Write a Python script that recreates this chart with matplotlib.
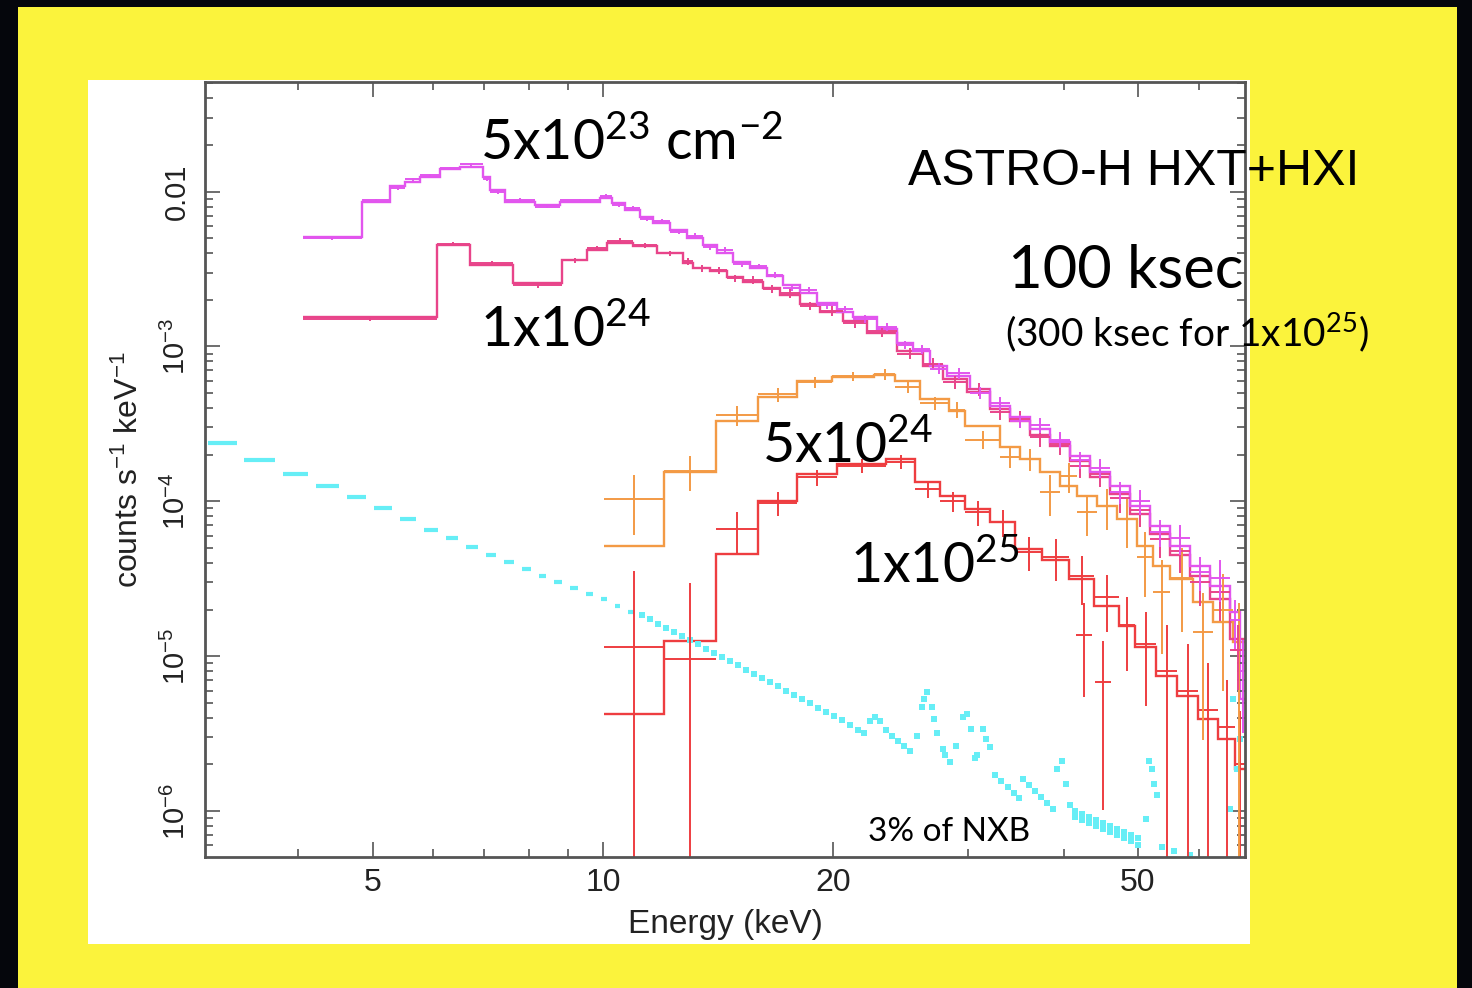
import numpy as np
import matplotlib
matplotlib.use("Agg")
from matplotlib import pyplot as plt
from matplotlib.patches import Rectangle
from matplotlib.ticker import FixedLocator, FixedFormatter, NullFormatter

plt.rcParams["font.family"] = ["Liberation Sans", "DejaVu Sans"]
plt.rcParams["mathtext.default"] = "regular"

""" DATA (read off the picture) """
# 5x10^23 cm^-2 (magenta)
mag_edges = [4.05, 4.84, 5.27, 5.51, 5.77, 6.12, 6.50, 6.97, 7.12, 7.45,
             8.15, 8.78, 9.91, 10.27, 10.69, 11.18, 11.62, 12.24, 12.88, 13.51,
             14.09, 14.79, 15.57, 16.38, 17.19, 18.09, 19.04, 20.22, 21.22, 22.81,
             24.23, 25.42, 26.76, 28.17, 30.18, 32.06, 34.04, 36.16, 38.39, 40.78,
             43.31, 45.99, 48.85, 51.88, 55.10, 58.51, 62.15, 66.0, 68.0, 69.05]
mag_model = [5.12e-3, 8.62e-3, 1.08e-2, 1.16e-2, 1.25e-2, 1.39e-2, 1.45e-2, 1.25e-2, 1.03e-2, 8.62e-3,
             8.24e-3, 8.62e-3, 9.15e-3, 8.49e-3, 7.65e-3, 6.90e-3, 6.31e-3, 5.69e-3, 5.05e-3, 4.55e-3,
             4.04e-3, 3.53e-3, 3.23e-3, 2.83e-3, 2.51e-3, 2.23e-3, 1.92e-3, 1.68e-3, 1.54e-3, 1.29e-3,
             1.06e-3, 9.29e-4, 7.43e-4, 6.40e-4, 5.28e-4, 4.10e-4, 3.48e-4, 2.92e-4, 2.40e-4, 1.95e-4,
             1.54e-4, 1.25e-4, 9.29e-5, 6.90e-5, 5.13e-5, 3.81e-5, 2.83e-5, 1.92e-5, 5.3e-6]
mag_data = [5.0e-3, 8.8e-3, 1.05e-2, 1.2e-2, 1.28e-2, 1.42e-2, 1.5e-2, 1.2e-2, 1.0e-2, 8.8e-3,
            8.0e-3, 8.8e-3, 9.4e-3, 8.2e-3, 7.8e-3, 6.7e-3, 6.5e-3, 5.5e-3, 5.2e-3, 4.4e-3,
            4.2e-3, 3.4e-3, 3.3e-3, 2.9e-3, 2.4e-3, 2.3e-3, 1.85e-3, 1.75e-3, 1.5e-3, 1.33e-3,
            1.02e-3, 9.6e-4, 7.2e-4, 6.7e-4, 5.0e-4, 4.3e-4, 3.3e-4, 3.1e-4, 2.5e-4, 1.85e-4,
            1.65e-4, 1.15e-4, 1.0e-4, 6.3e-5, 5.8e-5, 3.5e-5, 3.2e-5, 1.7e-5, 8e-6]
mag_err = [0.02, 0.02, 0.02, 0.02, 0.02, 0.02, 0.02, 0.03, 0.03, 0.03,
           0.02, 0.02, 0.03, 0.03, 0.03, 0.03, 0.03, 0.03, 0.04, 0.04,
           0.04, 0.04, 0.04, 0.05, 0.05, 0.05, 0.05, 0.05, 0.06, 0.06,
           0.06, 0.07, 0.08, 0.08, 0.09, 0.1, 0.1, 0.11, 0.12, 0.13,
           0.14, 0.16, 0.18, 0.2, 0.22, 0.25, 0.3, 0.35, 0.6]

# 1x10^24 (pink)
pink_edges = [4.05, 6.07, 6.70, 7.63, 8.84, 9.53, 10.12, 10.94, 11.76, 12.72,
              13.11, 13.80, 14.53, 15.24, 16.19, 17.03, 18.09, 19.21, 20.59, 22.13,
              24.23, 26.20, 27.83, 29.91, 32.06, 34.04, 36.16, 38.39, 40.78, 43.31,
              45.99, 48.85, 51.88, 55.10, 58.51, 62.15, 66.0, 69.05]
pink_model = [1.54e-3, 4.55e-3, 3.38e-3, 2.55e-3, 3.64e-3, 4.22e-3, 4.69e-3, 4.42e-3, 4.04e-3, 3.48e-3,
              3.23e-3, 3.05e-3, 2.79e-3, 2.62e-3, 2.40e-3, 2.16e-3, 1.87e-3, 1.66e-3, 1.45e-3, 1.23e-3,
              9.29e-4, 7.43e-4, 6.12e-4, 5.05e-4, 3.93e-4, 3.28e-4, 2.70e-4, 2.26e-4, 1.81e-4, 1.43e-4,
              1.11e-4, 8.24e-5, 6.12e-5, 4.48e-5, 3.28e-5, 2.35e-5, 1.3e-5]
pink_data = [1.5e-3, 4.6e-3, 3.45e-3, 2.5e-3, 3.6e-3, 4.3e-3, 4.8e-3, 4.5e-3, 4.0e-3, 3.55e-3,
             3.2e-3, 3.1e-3, 2.75e-3, 2.7e-3, 2.35e-3, 2.2e-3, 1.83e-3, 1.7e-3, 1.42e-3, 1.25e-3,
             9.0e-4, 7.7e-4, 5.9e-4, 5.3e-4, 3.8e-4, 3.4e-4, 2.6e-4, 2.35e-4, 1.7e-4, 1.5e-4,
             1.05e-4, 8.8e-5, 5.7e-5, 4.8e-5, 3.0e-5, 2.6e-5, 1.1e-5]
pink_err = [0.03, 0.03, 0.04, 0.04, 0.04, 0.04, 0.04, 0.04, 0.04, 0.05,
            0.05, 0.05, 0.05, 0.06, 0.06, 0.06, 0.06, 0.07, 0.07, 0.08,
            0.08, 0.09, 0.1, 0.1, 0.12, 0.12, 0.14, 0.15, 0.17, 0.18,
            0.2, 0.22, 0.25, 0.28, 0.3, 0.35, 0.45]

# 5x10^24 (orange)
org_edges = [10.03, 12.02, 14.05, 15.95, 17.93, 19.93, 22.61, 24.08, 25.97, 28.35,
             29.73, 33.04, 35.09, 37.26, 39.57, 41.65, 44.23, 46.99, 49.89, 52.36,
             55.10, 59.04, 62.71, 66.60, 69.05]
org_model = [5.13e-5, 1.54e-4, 3.28e-4, 4.75e-4, 5.94e-4, 6.31e-4, 6.50e-4, 5.94e-4, 4.55e-4, 3.81e-4,
             3.05e-4, 2.23e-4, 1.87e-4, 1.54e-4, 1.25e-4, 1.08e-4, 9.29e-5, 7.66e-5, 5.13e-5, 3.81e-5,
             3.14e-5, 2.23e-5, 1.66e-5, 1.23e-5]
org_data = [1.04e-4, 1.56e-4, 3.6e-4, 4.9e-4, 5.9e-4, 6.4e-4, 6.6e-4, 5.5e-4, 4.3e-4, 3.9e-4,
            2.5e-4, 1.92e-4, 1.87e-4, 1.14e-4, 1.45e-4, 8.5e-5, 9.3e-5, 7.7e-5, 4.4e-5, 2.6e-5,
            3.2e-5, 1.43e-5, 2.0e-5, 1.1e-5]
org_err = [0.42, 0.25, 0.15, 0.1, 0.08, 0.07, 0.08, 0.09, 0.1, 0.12,
           0.13, 0.15, 0.16, 0.3, 0.22, 0.3, 0.3, 0.35, 0.45, 0.6,
           0.55, 0.8, 0.7, 1.0]

# 1x10^25 (red)
red_edges = [10.03, 12.02, 14.05, 15.95, 17.93, 20.22, 23.44, 25.57, 27.57, 29.73,
             32.06, 34.56, 37.49, 40.66, 43.83, 47.27, 49.60, 52.83, 56.29, 59.97,
             63.68, 67.0, 69.05]
red_model = [4.23e-6, 1.25e-5, 4.55e-5, 1.0e-4, 1.49e-4, 1.73e-4, 1.87e-4, 1.33e-4, 1.08e-4, 8.87e-5,
             7.32e-5, 4.9e-5, 4.2e-5, 3.16e-5, 2.1e-5, 1.56e-5, 1.14e-5, 7.43e-6, 5.52e-6, 3.95e-6,
             2.94e-6, 1.87e-6]
red_data = [1.14e-5, 9.6e-6, 6.6e-5, 9.8e-5, 1.43e-4, 1.7e-4, 1.8e-4, 1.2e-4, 1.0e-4, 8.5e-5,
            7.3e-5, 4.7e-5, 4.4e-5, 3.3e-5, 2.4e-5, 1.6e-5, 1.2e-5, 8e-6, 6e-6, 4.5e-6,
            3.5e-6, 2.0e-6]
red_err = [2.1, 2.1, 0.3, 0.18, 0.12, 0.1, 0.1, 0.12, 0.15, 0.18,
           0.2, 0.25, 0.3, 0.35, 0.4, 0.5, 0.6, 1.0, 1.0, 1.0,
           1.0, 1.2]
# two extra low red points near 43-45 keV
red_x2 = [42.5, 45.0]
red_y2 = [1.37e-5, 6.8e-6]
red_x2err = [1.0, 1.1]
red_y2err = [0.6, 0.85]

# 3% of NXB (cyan): wide bins at low energy, dense points above 11 keV
nxb_edges = [3.01, 3.36, 3.77, 4.17, 4.57, 4.96, 5.36, 5.77, 6.16, 6.54,
             6.95, 7.33, 7.74, 8.15, 8.52, 8.95, 9.39, 9.82, 10.24, 10.65, 11.10]
nxb_wide = [2.37e-4, 1.84e-4, 1.49e-4, 1.25e-4, 1.06e-4, 9.0e-5, 7.66e-5, 6.5e-5, 5.77e-5, 5.05e-5,
            4.48e-5, 4.04e-5, 3.64e-5, 3.28e-5, 3.0e-5, 2.75e-5, 2.51e-5, 2.33e-5, 2.1e-5, 1.92e-5]
nxb_e = [11.25, 11.53, 11.80, 12.09, 12.38, 12.69, 13.00, 13.31, 13.63, 13.97,
         14.30, 14.66, 15.01, 15.38, 15.75, 16.14, 16.53, 16.93, 17.35, 17.77,
         18.20, 18.65, 19.10, 19.56, 20.05, 20.53, 21.03, 21.54, 21.93, 22.34,
         22.68, 23.02, 23.44, 23.87, 24.31, 24.75, 25.21, 25.7, 26.1, 26.3,
         26.5, 26.9, 27.1, 27.3, 27.8, 28.0, 28.4, 28.9, 29.5, 29.9,
         30.3, 30.6, 30.8, 31.4, 31.7, 32.0, 32.54, 33.15, 33.8, 34.4,
         35.0, 35.4, 36.0, 36.7, 37.4, 38.0, 38.7, 39.2, 39.8, 40.3,
         40.8, 41.4, 41.4, 42.3, 42.3, 43.2, 43.2, 44.1, 44.1, 45.0,
         45.0, 46.0, 46.0, 47.0, 47.0, 48.0, 48.0, 49.0, 49.0, 50.0,
         50.0, 51.3, 51.7, 52.1, 52.4, 52.9, 53.8, 55.8, 58.4, 66.0,
         66.5, 67.3, 67.9]
nxb_c = [1.84e-5, 1.73e-5, 1.62e-5, 1.53e-5, 1.43e-5, 1.35e-5, 1.27e-5, 1.19e-5, 1.12e-5, 1.05e-5,
         9.88e-6, 9.29e-6, 8.75e-6, 8.18e-6, 7.69e-6, 7.21e-6, 6.79e-6, 6.40e-6, 5.98e-6, 5.62e-6,
         5.28e-6, 4.97e-6, 4.65e-6, 4.37e-6, 4.10e-6, 3.86e-6, 3.59e-6, 3.33e-6, 3.19e-6, 3.81e-6,
         4.04e-6, 3.81e-6, 3.33e-6, 3.05e-6, 2.83e-6, 2.62e-6, 2.44e-6, 3.05e-6, 4.69e-6, 5.3e-6,
         5.86e-6, 4.69e-6, 3.95e-6, 3.2e-6, 2.51e-6, 2.3e-6, 2.07e-6, 2.62e-6, 4.04e-6, 4.23e-6,
         3.38e-6, 2.2e-6, 2.3e-6, 3.38e-6, 2.94e-6, 2.59e-6, 1.70e-6, 1.56e-6, 1.43e-6, 1.31e-6,
         1.21e-6, 1.61e-6, 1.47e-6, 1.35e-6, 1.24e-6, 1.13e-6, 1.03e-6, 1.87e-6, 2.1e-6, 1.5e-6,
         1.1e-6, 1.0e-6, 9.15e-7, 9.57e-7, 8.75e-7, 9.15e-7, 8.37e-7, 8.75e-7, 8.0e-7, 8.37e-7,
         7.65e-7, 8.0e-7, 7.32e-7, 7.65e-7, 7.0e-7, 7.32e-7, 6.7e-7, 7.0e-7, 6.4e-7, 6.7e-7,
         6.03e-7, 8.9e-7, 2.1e-6, 1.87e-6, 1.5e-6, 1.27e-6, 5.86e-7, 5.5e-7, 5.2e-7, 1.03e-6,
         5.28e-6, 1.87e-6, 2.94e-6]

x_ticks = [5, 10, 20, 50]
x_ticklabels = ["5", "10", "20", "50"]
y_ticks = [1e-6, 1e-5, 1e-4, 1e-3, 1e-2]
y_ticklabels = ["10$^{-6}$", "10$^{-5}$", "10$^{-4}$", "10$^{-3}$", "0.01"]

C_MAG = "#e255ee"
C_PINK = "#e8448a"
C_ORG = "#f39a45"
C_RED = "#ee3d40"
C_CYAN = "#66eef6"


def crosses(ax, edges, vals, frac, color, lw=1.4):
    edges = np.asarray(edges)
    vals = np.asarray(vals)
    frac = np.asarray(frac)
    xc = np.sqrt(edges[:-1] * edges[1:])
    xerr = [xc - edges[:-1], edges[1:] - xc]
    yerr = [np.minimum(frac, 0.99) * vals, frac * vals]
    ax.errorbar(xc, vals, xerr=xerr, yerr=yerr, fmt="none",
                ecolor=color, elinewidth=lw, capsize=0)


fig = plt.figure(figsize=(14.72, 9.88), dpi=100)
fig.patch.set_facecolor("#05060c")
fig.patches.append(Rectangle((0.0122, 0.0), 0.9776, 0.9929, transform=fig.transFigure,
                             facecolor="#fbf33c", edgecolor="none", zorder=-2))
fig.patches.append(Rectangle((0.0598, 0.0445), 0.7894, 0.8745, transform=fig.transFigure,
                             facecolor="white", edgecolor="none", zorder=-1))

ax = fig.add_axes([0.1393, 0.1326, 0.7065, 0.7844])
ax.set_facecolor("white")
ax.set_xscale("log")
ax.set_yscale("log")

# NXB
ne = np.asarray(nxb_edges)
ax.hlines(nxb_wide, ne[:-1] * 1.012, ne[1:] / 1.012, color=C_CYAN, lw=3.0)
ax.plot(nxb_e, nxb_c, "s", color=C_CYAN, ms=4.2, mew=0)

# spectra: model histograms + data crosses
for edges, model, data, err, col in [
        (red_edges, red_model, red_data, red_err, C_RED),
        (org_edges, org_model, org_data, org_err, C_ORG),
        (pink_edges, pink_model, pink_data, pink_err, C_PINK),
        (mag_edges, mag_model, mag_data, mag_err, C_MAG)]:
    ax.stairs(model, edges, baseline=None, color=col, lw=1.7)
    crosses(ax, edges, data, err, col)

ry = np.asarray(red_y2)
ax.errorbar(red_x2, red_y2, xerr=red_x2err,
            yerr=[ry * np.asarray(red_y2err), ry * np.asarray(red_y2err)],
            fmt="none", ecolor=C_RED, elinewidth=1.4, capsize=0)

ax.set_xlim(3.02, 69.0)
ax.set_ylim(5.05e-7, 0.051)

ax.xaxis.set_major_locator(FixedLocator(x_ticks))
ax.xaxis.set_major_formatter(FixedFormatter(x_ticklabels))
ax.xaxis.set_minor_locator(FixedLocator([3, 4, 6, 7, 8, 9, 30, 40, 60]))
ax.xaxis.set_minor_formatter(NullFormatter())
ax.yaxis.set_major_locator(FixedLocator(y_ticks))
ax.yaxis.set_major_formatter(FixedFormatter(y_ticklabels))
ax.yaxis.set_minor_locator(FixedLocator(
    [m * 10.0 ** k for k in range(-7, -1) for m in range(2, 10)]))
ax.yaxis.set_minor_formatter(NullFormatter())

ax.tick_params(which="both", direction="in", top=True, right=True,
               color="#555555", width=1.2, labelcolor="#222222")
ax.tick_params(which="major", length=11)
ax.tick_params(which="minor", length=6)
ax.tick_params(axis="x", labelsize=23, pad=8)
ax.tick_params(axis="y", labelsize=21, pad=10, labelrotation=90)
for lab in ax.get_yticklabels():
    lab.set_va("center")
for s in ax.spines.values():
    s.set_color("#555555")
    s.set_linewidth(2)

ax.set_xlabel("Energy (keV)", fontsize=24, color="#222222", labelpad=8)
ax.set_ylabel("counts s$^{-1}$ keV$^{-1}$", fontsize=23, color="#222222", labelpad=12)

# annotations
ann = ["Lato", "DejaVu Sans"]
fig.text(0.326, 0.838, "5x10$^{23}$ cm$^{-2}$", fontsize=40, family=ann, va="baseline")
fig.text(0.326, 0.649, "1x10$^{24}$", fontsize=40, family=ann, va="baseline")
fig.text(0.518, 0.531, "5x10$^{24}$", fontsize=40, family=ann, va="baseline")
fig.text(0.5775, 0.410, "1x10$^{25}$", fontsize=40, family=ann, va="baseline")
fig.text(0.617, 0.8128, "ASTRO-H HXT+HXI", fontsize=36, va="baseline")
fig.text(0.6848, 0.7085, "100 ksec", fontsize=43, family=ann, va="baseline")
fig.text(0.6827, 0.650, "(300 ksec for 1x10$^{25}$)", fontsize=28, family=ann, va="baseline")
fig.text(0.5897, 0.1488, "3% of NXB", fontsize=24, family=ann, va="baseline")

fig.savefig("out.png", dpi=100, facecolor=fig.get_facecolor())
